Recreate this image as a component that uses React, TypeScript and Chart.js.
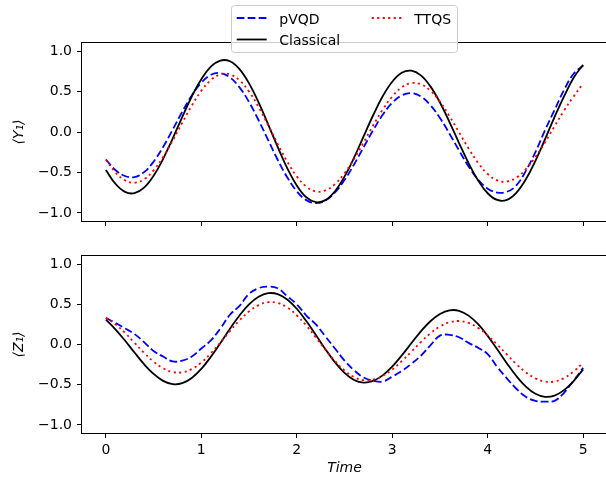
import React, { useEffect, useRef } from 'react';
import { Chart, registerables } from 'chart.js';

Chart.register(...registerables);
Chart.defaults.font.family = '"DejaVu Sans", sans-serif';
Chart.defaults.font.size = 14;
Chart.defaults.color = '#000';

const times = [
  0, 0.1, 0.2, 0.3, 0.4, 0.5, 0.6, 0.7, 0.8, 0.9,
  1, 1.1, 1.2, 1.3, 1.4, 1.5, 1.6, 1.7, 1.8, 1.9,
  2, 2.1, 2.2, 2.3, 2.4, 2.5, 2.6, 2.7, 2.8, 2.9,
  3, 3.1, 3.2, 3.3, 3.4, 3.5, 3.6, 3.7, 3.8, 3.9,
  4, 4.1, 4.2, 4.3, 4.4, 4.5, 4.6, 4.7, 4.8, 4.9, 5,
];

const y1Pvqd = [
  -0.34, -0.469, -0.544, -0.557, -0.496, -0.367, -0.185, 0.029, 0.25, 0.451,
  0.61, 0.707, 0.728, 0.675, 0.552, 0.37, 0.145, -0.1, -0.343, -0.56,
  -0.733, -0.842, -0.88, -0.846, -0.747, -0.594, -0.402, -0.189, 0.022, 0.212,
  0.361, 0.453, 0.48, 0.438, 0.332, 0.173, -0.021, -0.228, -0.425, -0.588,
  -0.7, -0.748, -0.74, -0.66, -0.48, -0.25, 0.02, 0.27, 0.52, 0.72, 0.82,
];
const y1Classical = [
  -0.47, -0.64, -0.74, -0.756, -0.688, -0.541, -0.332, -0.081, 0.185, 0.439,
  0.652, 0.807, 0.883, 0.874, 0.777, 0.601, 0.366, 0.094, -0.185, -0.447,
  -0.661, -0.807, -0.868, -0.842, -0.732, -0.551, -0.317, -0.055, 0.207, 0.441,
  0.621, 0.732, 0.758, 0.7, 0.564, 0.365, 0.123, -0.136, -0.386, -0.6,
  -0.757, -0.84, -0.839, -0.751, -0.585, -0.357, -0.092, 0.184, 0.44, 0.67, 0.83,
];
const y1Ttqs = [
  -0.34, -0.499, -0.597, -0.627, -0.584, -0.474, -0.309, -0.106, 0.114, 0.326,
  0.509, 0.642, 0.713, 0.712, 0.639, 0.499, 0.308, 0.085, -0.147, -0.366,
  -0.548, -0.675, -0.735, -0.722, -0.645, -0.51, -0.333, -0.129, 0.081, 0.277,
  0.439, 0.552, 0.604, 0.59, 0.511, 0.375, 0.196, -0.004, -0.204, -0.382,
  -0.519, -0.598, -0.612, -0.564, -0.46, -0.31, -0.128, 0.07, 0.265, 0.44, 0.6,
];

const z1Pvqd = [
  0.33, 0.27, 0.2, 0.13, 0.03, -0.08, -0.15, -0.21, -0.2, -0.15,
  -0.05, 0.05, 0.2, 0.37, 0.48, 0.63, 0.7, 0.72, 0.7, 0.6,
  0.5, 0.36, 0.25, 0.1, -0.05, -0.2, -0.32, -0.41, -0.45, -0.46,
  -0.4, -0.33, -0.24, -0.14, -0.01, 0.11, 0.12, 0.09, 0.02, -0.04,
  -0.12, -0.28, -0.42, -0.55, -0.65, -0.7, -0.71, -0.7, -0.6, -0.45, -0.29,
];
const z1Classical = [
  0.31, 0.189, 0.05, -0.1, -0.245, -0.366, -0.452, -0.493, -0.481, -0.416,
  -0.303, -0.153, 0.019, 0.196, 0.361, 0.498, 0.593, 0.638, 0.626, 0.559,
  0.444, 0.291, 0.118, -0.058, -0.221, -0.353, -0.441, -0.474, -0.453, -0.384,
  -0.274, -0.136, 0.015, 0.163, 0.289, 0.379, 0.425, 0.419, 0.359, 0.252,
  0.107, -0.06, -0.232, -0.392, -0.523, -0.613, -0.651, -0.635, -0.567, -0.454, -0.309,
];
const z1Ttqs = [
  0.332, 0.252, 0.145, 0.022, -0.103, -0.213, -0.296, -0.342, -0.346, -0.306,
  -0.224, -0.109, 0.025, 0.167, 0.3, 0.412, 0.489, 0.526, 0.516, 0.46,
  0.363, 0.235, 0.087, -0.064, -0.206, -0.323, -0.405, -0.443, -0.435, -0.389,
  -0.311, -0.206, -0.089, 0.03, 0.138, 0.223, 0.276, 0.292, 0.268, 0.206,
  0.113, -0.001, -0.124, -0.244, -0.346, -0.421, -0.461, -0.46, -0.418, -0.336, -0.226,
];

const xTicks = [0, 1, 2, 3, 4, 5];
const yTicks = [-1, -0.5, 0, 0.5, 1];
const seriesLabels = ['pVQD', 'Classical', 'TTQS'];
const seriesColors = ['#0000ff', '#000000', '#ff0000'];
const seriesDashes: number[][] = [[7.7, 3.3], [], [2.1, 3.4]];
const seriesOrder = [2, 1, 0];
const xTitle = 'Time';
const yTitles = ['\u27E8Y\u2081\u27E9', '\u27E8Z\u2081\u27E9'];

const fmtY = (v: number) => (v < 0 ? '\u2212' : '') + Math.abs(v).toFixed(1);

const framePlugin = {
  id: 'frame',
  afterDatasetsDraw(chart: any) {
    const { ctx, chartArea } = chart;
    ctx.save();
    ctx.strokeStyle = '#000';
    ctx.lineWidth = 1;
    const l = Math.round(chartArea.left) - 0.5;
    const t = Math.round(chartArea.top) - 0.5;
    const r = Math.round(chartArea.right) + 0.5;
    const b = Math.round(chartArea.bottom) + 0.5;
    ctx.strokeRect(l, t, r - l, b - t);
    ctx.restore();
  },
};

const legendPlugin = {
  id: 'mplLegend',
  afterDraw(chart: any) {
    const ctx = chart.ctx;
    ctx.save();
    const bx = 231.5, by = 5.5, bw = 226, bh = 47;
    ctx.beginPath();
    ctx.roundRect(bx, by, bw, bh, 3);
    ctx.fillStyle = 'rgba(255,255,255,0.8)';
    ctx.fill();
    ctx.strokeStyle = '#cccccc';
    ctx.lineWidth = 1;
    ctx.stroke();
    const cols = [236.7, 371.7];
    const rowsBase = [23.5, 45];
    const perCol = 2;
    ctx.font = '14px "DejaVu Sans", sans-serif';
    ctx.textBaseline = 'alphabetic';
    ctx.textAlign = 'left';
    chart.data.datasets.forEach((ds: any, i: number) => {
      const col = Math.floor(i / perCol);
      const row = i % perCol;
      const hx = cols[col];
      const base = rowsBase[row];
      const hy = base - 5.5;
      ctx.beginPath();
      ctx.setLineDash(ds.borderDash || []);
      ctx.strokeStyle = ds.borderColor;
      ctx.lineWidth = ds.borderWidth;
      ctx.moveTo(hx, hy);
      ctx.lineTo(hx + 30, hy);
      ctx.stroke();
      ctx.setLineDash([]);
      ctx.fillStyle = '#000';
      ctx.fillText(ds.label, hx + 42.6, base);
    });
    ctx.restore();
  },
};

function makeConfig(values: number[][], yTitle: string, isTop: boolean): any {
  const datasets = values.map((arr, i) => ({
    label: seriesLabels[i],
    data: times.map((t, k) => ({ x: t, y: arr[k] })),
    borderColor: seriesColors[i],
    backgroundColor: seriesColors[i],
    borderDash: seriesDashes[i],
    borderWidth: 1.8,
    borderCapStyle: 'butt',
    pointRadius: 0,
    fill: false,
    tension: 0.4,
    order: seriesOrder[i],
  }));
  const grid = {
    display: true,
    drawOnChartArea: false,
    drawTicks: true,
    tickLength: 5,
    color: '#000',
    lineWidth: 1,
  };
  return {
    type: 'line',
    data: { datasets },
    options: {
      animation: false,
      responsive: false,
      events: [],
      layout: {
        autoPadding: false,
        padding: { top: isTop ? 43 : 16, right: 5, left: 0, bottom: 0 },
      },
      plugins: {
        legend: { display: false },
        tooltip: { enabled: false },
      },
      scales: {
        x: {
          type: 'linear',
          min: -0.25,
          max: 5.25,
          afterBuildTicks: (s: any) => {
            s.ticks = xTicks.map((v) => ({ value: v }));
          },
          afterFit: (s: any) => {
            s.height = isTop ? 19 : 44;
          },
          ticks: {
            display: !isTop,
            color: '#000',
            padding: 4,
            maxRotation: 0,
            font: { size: 14 },
            callback: (v: number) => String(v),
          },
          grid,
          border: { display: false },
          title: isTop
            ? { display: false }
            : {
                display: true,
                text: xTitle,
                color: '#000',
                font: { size: 14, style: 'italic' },
                padding: { top: 0, bottom: 0 },
              },
        },
        y: {
          type: 'linear',
          min: -1.1,
          max: 1.1,
          afterBuildTicks: (s: any) => {
            s.ticks = yTicks.map((v) => ({ value: v }));
          },
          afterFit: (s: any) => {
            s.width = 82;
          },
          ticks: {
            color: '#000',
            padding: 5,
            font: { size: 14 },
            callback: (v: number) => fmtY(v),
          },
          grid,
          border: { display: false },
          title: {
            display: true,
            text: yTitle,
            color: '#000',
            font: { size: 14, style: 'italic' },
            padding: { top: 11, bottom: 0 },
          },
        },
      },
    },
    plugins: isTop ? [framePlugin, legendPlugin] : [framePlugin],
  };
}

export default function App() {
  const topRef = useRef<HTMLCanvasElement>(null);
  const botRef = useRef<HTMLCanvasElement>(null);
  useEffect(() => {
    const c1 = new Chart(topRef.current as HTMLCanvasElement, makeConfig([y1Pvqd, y1Classical, y1Ttqs], yTitles[0], true));
    const c2 = new Chart(botRef.current as HTMLCanvasElement, makeConfig([z1Pvqd, z1Classical, z1Ttqs], yTitles[1], false));
    return () => {
      c1.destroy();
      c2.destroy();
    };
  }, []);
  return (
    <div style={{ position: 'absolute', left: 0, top: 0, width: 606, height: 477, overflow: 'hidden', background: '#fff' }}>
      <canvas ref={topRef} width={612} height={240} style={{ position: 'absolute', left: 0, top: 0 }} />
      <canvas ref={botRef} width={612} height={237} style={{ position: 'absolute', left: 0, top: 240 }} />
    </div>
  );
}
